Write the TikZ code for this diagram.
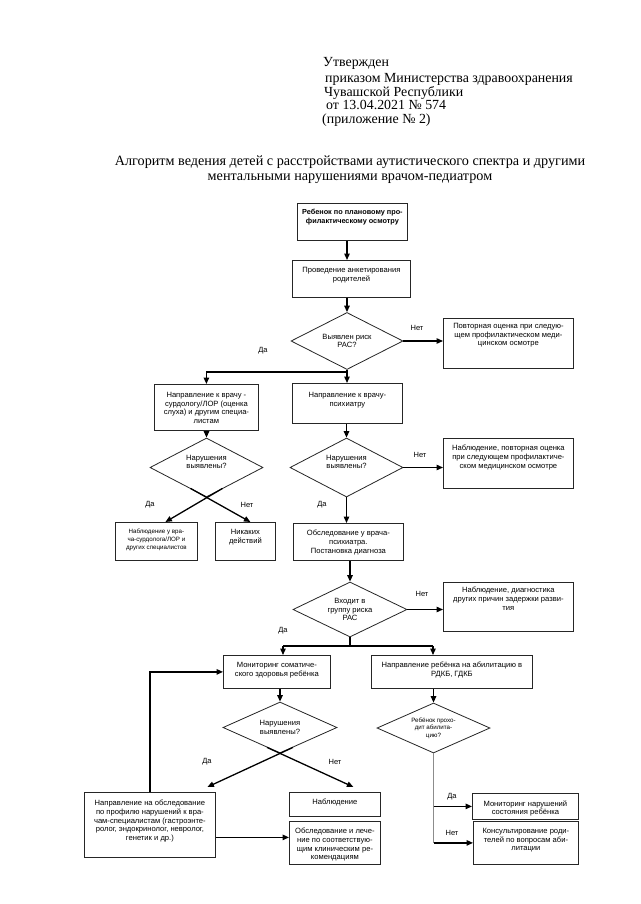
\documentclass[tikz,border=0pt]{standalone}
\usepackage{fontspec}
\setmainfont{Liberation Serif}
\setsansfont{Liberation Sans}
\usetikzlibrary{shapes.geometric,arrows.meta,calc}
\newcommand\mybox[8][]{\node[box,#1,anchor=north west] (#2) at (#3,#4) {\parbox[c][\dimexpr#6pt-#4pt\relax][t]{\dimexpr#5pt-#3pt\relax}{\centering\vspace*{#7pt}#8\par}};}
\begin{document}
\begin{tikzpicture}[x=1pt,y=-1pt,
  box/.style={draw=black!85,line width=0.8pt,inner sep=0pt,font=\sffamily\fontsize{7.6}{8.6}\selectfont},
  small/.style={font=\sffamily\fontsize{6.2}{7.6}\selectfont},
  dia/.style={diamond,draw=black!85,line width=0.8pt,inner sep=0pt,aspect=2,align=center,font=\sffamily\fontsize{7.6}{8.6}\selectfont},
  conn/.style={line width=1.3pt,black},
  arr/.style={conn,-{Triangle[length=6.5pt,width=5.5pt]}},
  lab/.style={font=\sffamily\fontsize{7.5}{8.6}\selectfont,inner sep=0pt},
  hdr/.style={font=\fontsize{13.9}{15}\selectfont,inner sep=0pt},
  ttl/.style={font=\fontsize{14.2}{15}\selectfont,inner sep=0pt}]
\useasboundingbox[fill=white] (0,0) rectangle (640,904);

% header
\node[hdr,anchor=base west] (h1) at (323,67) {Утвержден};
\node[hdr,anchor=base west] (h2) at (325,83) {приказом Министерства здравоохранения};
\node[hdr,anchor=base west] (h3) at (324,97) {Чувашской Республики};
\node[hdr,anchor=base west] (h4) at (326,110) {от 13.04.2021 № 574};
\node[hdr,anchor=base west] (h5) at (322,124) {(приложение № 2)};
\node[ttl,anchor=base] (t1) at (350,166) {Алгоритм ведения детей с расстройствами аутистического спектра и другими};
\node[ttl,anchor=base] (t2) at (350,180) {ментальными нарушениями врачом-педиатром};

% boxes
\mybox[font=\sffamily\bfseries\fontsize{7.3}{8.6}\selectfont]{b1}{297}{203}{407}{240}{6}{Ребенок по плановому про-\\филактическому осмотру}
\mybox{b2}{292}{260}{410}{297}{7}{Проведение анкетирования\\родителей}
\node[dia,minimum width=112pt,minimum height=57pt] (d1) at (347,341) {Выявлен риск\\РАС?};
\mybox{b3}{443}{318}{573}{368}{5}{Повторная оценка при следую-\\щем профилактическом меди-\\цинском осмотре}
\mybox{b4}{154}{384}{258}{430}{8}{Направление к врачу -\\сурдологу/ЛОР (оценка\\слуха) и другим специа-\\листам}
\mybox{b5}{292}{383}{402}{423}{9}{Направление к врачу-\\психиатру}
\node[dia,minimum width=113pt,minimum height=59pt] (d2) at (206.5,467.5) {Нарушения\\выявлены?\\[3pt]};
\node[dia,minimum width=113pt,minimum height=59pt] (d3) at (346.5,467.5) {Нарушения\\выявлены?\\[3pt]};
\mybox{b6}{443}{438}{573}{488}{7}{Наблюдение, повторная оценка\\при следующем профилактиче-\\ском медицинском осмотре}
\mybox[small]{b7}{115}{522}{197}{560}{7}{Наблюдение у вра-\\ча-сурдолога/ЛОР и\\других специалистов}
\mybox{b8}{215}{522}{275}{560}{7}{Никаких\\действий}
\mybox{b9}{293}{523}{403}{560}{7}{Обследование у врача-\\психиатра.\\Постановка диагноза}
\node[dia,minimum width=114pt,minimum height=55pt] (d4) at (350,609.5) {Входит в\\группу риска\\РАС};
\mybox{b10}{443}{582}{573}{631}{5}{Наблюдение, диагностика\\других причин задержки разви-\\тия}
\mybox{b11}{223}{655}{330}{688}{7}{Мониторинг соматиче-\\ского здоровья ребёнка}
\mybox{b12}{371}{655}{532}{688}{7}{Направление ребёнка на абилитацию в\\РДКБ, ГДКБ}
\node[dia,minimum width=114pt,minimum height=51pt] (d5) at (280,727.5) {Нарушения\\выявлены?};
\node[dia,small,minimum width=113pt,minimum height=50pt] (d6) at (433.5,728) {Ребёнок прохо-\\дит абилита-\\цию?};
\mybox{b13}{84}{792}{215}{857}{8}{Направление на обследование\\по профилю нарушений к вра-\\чам-специалистам (гастроэнте-\\ролог, эндокринолог, невролог,\\генетик и др.)}
\mybox{b14}{289}{792}{380}{816}{7}{Наблюдение}
\mybox{b15}{289}{821}{380}{864}{7}{Обследование и лече-\\ние по соответствую-\\щим клиническим ре-\\комендациям}
\mybox{b16}{472}{793}{578}{819}{7}{Мониторинг нарушений\\состояния ребёнка}
\mybox{b17}{473}{821}{578}{864}{7}{Консультирование роди-\\телей по вопросам аби-\\литации}

% connectors
\draw[arr] (b1.south -| d1.north) -- (b2.north -| d1.north);
\draw[arr] (b2.south -| d1.north) -- (d1.north);
\draw[arr] (d1.east) -- (d1.east -| b3.west);
\node[lab] (l1) at (417,328) {Нет};
\draw[arr] (d1.south) -- (d1.south |- b5.north);
\draw[arr] ([yshift=-2pt]d1.south) -| (b4.north);
\node[lab] (l2) at (263,351) {Да};
\draw[arr] (b4.south -| d2.north) -- (d2.north);
\draw[arr] (b5.south -| d3.north) -- (d3.north);
\draw[arr] (d3.east) -- (d3.east -| b6.west);
\node[lab] (l3) at (420,455) {Нет};
\draw[arr] (d3.south) -- (d3.south |- b9.north);
\node[lab] (l4) at (322,505) {Да};
\draw[arr] ($(d2.south)+(16,-9)$) -- ([xshift=9pt]b7.north);
\draw[arr] ($(d2.south)+(-16,-9)$) -- ([xshift=5pt]b8.north);
\node[lab] (l5) at (150,505) {Да};
\node[lab] (l6) at (247,505) {Нет};
\draw[arr] (b9.south -| d4.north) -- (d4.north);
\draw[arr] (d4.east) -- (d4.east -| b10.west);
\node[lab] (l7) at (422,594) {Нет};
\coordinate (jl) at (283,646);
\coordinate (jr) at (433,646);
\draw[conn] (d4.south) -- (d4.south |- jl);
\draw[conn] (jl) -- (jr);
\draw[arr] (jl) -- (jl |- b11.north);
\draw[arr] (jr) -- (jr |- b12.north);
\node[lab] (l8) at (283,631) {Да};
\draw[arr] (b11.south -| d5.north) -- (d5.north);
\draw[arr] (b12.south -| d6.north) -- (d6.north);
\draw[arr] ($(d5.south)+(13,-6)$) -- ([xshift=57.5pt,yshift=5pt]b13.north);
\draw[arr] ($(d5.south)+(-13,-6)$) -- ([xshift=18.5pt,yshift=5pt]b14.north);
\node[lab] (l9) at (207,762) {Да};
\node[lab] (l10) at (335,762) {Нет};
\draw[conn,black!45] (d6.south) -- (d6.south |- b17.west);
\draw[arr] (d6.south |- b16.west) -- (b16.west);
\draw[arr] (d6.south |- b17.west) -- (b17.west);
\node[lab] (l11) at (452,797) {Да};
\node[lab] (l12) at (452,833) {Нет};
\draw[arr] (b13.north) |- (b11.west);
\draw[arr] ([yshift=-12.5pt]b13.east) -- ([yshift=-12.5pt]b13.east -| b15.west);
\end{tikzpicture}
\end{document}
